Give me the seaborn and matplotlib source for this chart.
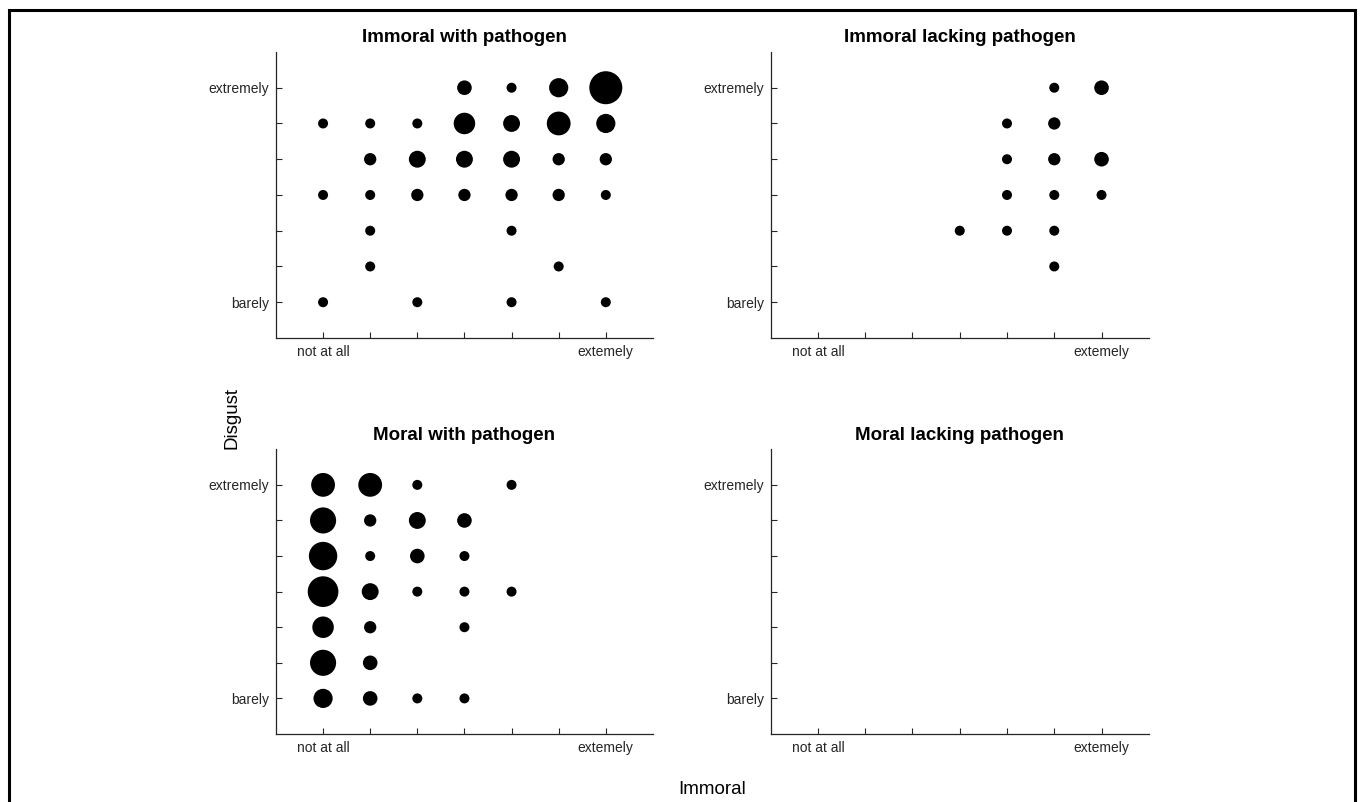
import numpy as np
import pandas as pd
import matplotlib
matplotlib.use("Agg")
import matplotlib.pyplot as plt
import seaborn as sns
from matplotlib.patches import Rectangle

# datos: (Immoral, Disgust, n) por panel
imm_pat_x = [4, 5, 6, 7, 1, 2, 3, 4, 5, 6, 7, 2, 3, 4, 5, 6, 7, 1, 2, 3, 4, 5, 6, 7, 2, 5, 2, 6, 1, 3, 5, 7]
imm_pat_y = [7, 7, 7, 7, 6, 6, 6, 6, 6, 6, 6, 5, 5, 5, 5, 5, 5, 4, 4, 4, 4, 4, 4, 4, 3, 3, 2, 2, 1, 1, 1, 1]
imm_pat_n = [3, 1, 5, 11, 1, 1, 1, 6, 4, 7, 5, 2, 4, 4, 4, 2, 2, 1, 1, 2, 2, 2, 2, 1, 1, 1, 1, 1, 1, 1, 1, 1]

imm_nopat_x = [6, 7, 5, 6, 5, 6, 7, 5, 6, 7, 4, 5, 6, 6]
imm_nopat_y = [7, 7, 6, 6, 5, 5, 5, 4, 4, 4, 3, 3, 3, 2]
imm_nopat_n = [1, 3, 1, 2, 1, 2, 3, 1, 1, 1, 1, 1, 1, 1]

mor_pat_x = [1, 2, 3, 5, 1, 2, 3, 4, 1, 2, 3, 4, 1, 2, 3, 4, 5, 1, 2, 4, 1, 2, 1, 2, 3, 4]
mor_pat_y = [7, 7, 7, 7, 6, 6, 6, 6, 5, 5, 5, 5, 4, 4, 4, 4, 4, 3, 3, 3, 2, 2, 1, 1, 1, 1]
mor_pat_n = [7, 7, 1, 1, 8, 2, 4, 3, 9, 1, 3, 1, 10, 4, 1, 1, 1, 6, 2, 1, 8, 3, 5, 3, 1, 1]

mor_nopat_x = []
mor_nopat_y = []
mor_nopat_n = []

titulos = ["Immoral with pathogen", "Immoral lacking pathogen",
           "Moral with pathogen", "Moral lacking pathogen"]
paneles = [(imm_pat_x, imm_pat_y, imm_pat_n), (imm_nopat_x, imm_nopat_y, imm_nopat_n),
           (mor_pat_x, mor_pat_y, mor_pat_n), (mor_nopat_x, mor_nopat_y, mor_nopat_n)]

xticklabels = ["not at all", "", "", "", "", "", "extemely"]
yticklabels = ["barely", "", "", "", "", "", "extremely"]

sns.set_style("white")
plt.rcParams['font.family'] = ['Liberation Sans', 'DejaVu Sans']
gris = "#262626"

fig = plt.figure(figsize=(13.6, 8.02), dpi=100)

# posiciones de los ejes (fracciones de la figura)
pos = [[0.2029, 0.5786, 0.2772, 0.3566], [0.5667, 0.5786, 0.2780, 0.3566],
       [0.2029, 0.0848, 0.2772, 0.3550], [0.5667, 0.0848, 0.2780, 0.3550]]


def area(n):
    # diametro del marcador en px -> area en pt^2
    d = (7.7 + 2.3 * np.asarray(n, dtype=float)) * 0.72
    return d ** 2


amin, amax = area(1), area(11)

for (xs, ys, ns), titulo, p in zip(paneles, titulos, pos):
    ax = fig.add_axes(p)
    if len(xs) > 0:
        df = pd.DataFrame({"Immoral": xs, "Disgust": ys, "area": area(ns)})
        sns.scatterplot(data=df, x="Immoral", y="Disgust", size="area",
                        sizes=(amin, amax), size_norm=(amin, amax),
                        color="black", linewidth=0, legend=False, ax=ax)
    ax.set_xlim(0, 8)
    ax.set_ylim(0, 8)
    ax.set_xticks(range(1, 8))
    ax.set_yticks(range(1, 8))
    ax.set_xticklabels(xticklabels)
    ax.set_yticklabels(yticklabels)
    ax.set_xlabel("")
    ax.set_ylabel("")
    ax.tick_params(bottom=True, left=True, direction="in", length=4, width=0.8,
                   color=gris, labelcolor=gris, labelsize=10, pad=5)
    sns.despine(ax=ax)
    for s in ["left", "bottom"]:
        ax.spines[s].set_color(gris)
        ax.spines[s].set_linewidth(0.9)
    ax.set_title(titulo, fontsize=13.5, fontweight="bold", pad=7, color="black")

fig.text(232 / 1360, 1 - 418 / 802, "Disgust", rotation=90, fontsize=13.5,
         ha="center", va="center", color="black")
fig.text(712 / 1360, 1 - 790 / 802, "Immoral", fontsize=13.5,
         ha="center", va="center", color="black")

# marco negro alrededor de la figura
fig.patches.append(Rectangle((9 / 1360, -0.05), (1355 - 9) / 1360, 1.05 - 10 / 802,
                             transform=fig.transFigure, fill=False,
                             edgecolor="black", linewidth=2.2, clip_on=False))

fig.savefig("out.png", dpi=100)
